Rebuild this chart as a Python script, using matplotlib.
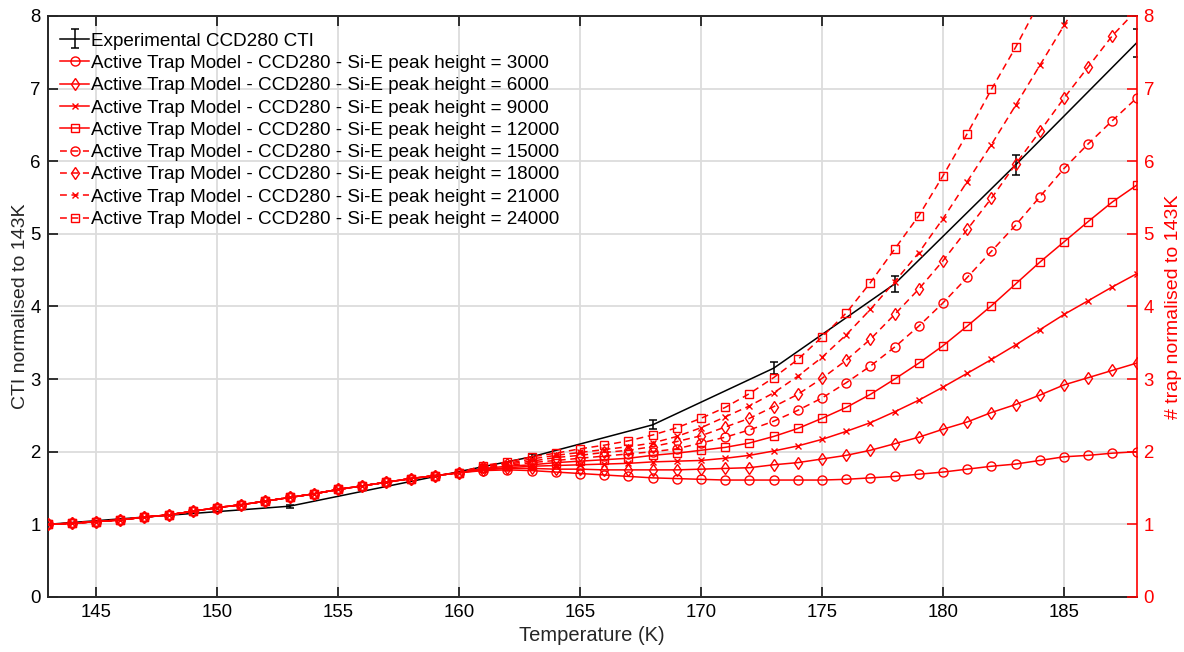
import matplotlib
matplotlib.use("Agg")
import matplotlib.pyplot as plt
import numpy as np

plt.rcParams["font.family"] = ["Liberation Sans", "DejaVu Sans"]

# ---- data ----
temps = list(range(143, 189))

exp_temps = [143, 153, 163, 168, 173, 178, 183, 188]
exp_cti = [1.00, 1.25, 1.93, 2.37, 3.15, 4.31, 5.95, 7.63]
exp_err = [0.01, 0.02, 0.04, 0.06, 0.08, 0.11, 0.14, 0.19]

# 143..160: all model curves sit on top of each other
common = [1.00, 1.014, 1.037, 1.06, 1.10, 1.13, 1.18, 1.23, 1.27, 1.32,
          1.37, 1.42, 1.48, 1.53, 1.58, 1.63, 1.67, 1.71]

# 161..188 per Si-E peak height
tail_3000 = [1.74, 1.75, 1.74, 1.72, 1.70, 1.68, 1.66, 1.64, 1.63, 1.62,
             1.61, 1.61, 1.61, 1.61, 1.61, 1.62, 1.64, 1.66, 1.69, 1.72,
             1.76, 1.80, 1.83, 1.88, 1.93, 1.95, 1.98, 2.00]
tail_6000 = [1.75, 1.77, 1.77, 1.76, 1.76, 1.75, 1.75, 1.75, 1.75, 1.76,
             1.77, 1.78, 1.82, 1.85, 1.90, 1.95, 2.02, 2.11, 2.20, 2.31,
             2.41, 2.54, 2.65, 2.78, 2.92, 3.02, 3.12, 3.22]
tail_9000 = [1.76, 1.78, 1.80, 1.81, 1.82, 1.83, 1.84, 1.86, 1.87, 1.88,
             1.91, 1.95, 2.01, 2.08, 2.17, 2.28, 2.40, 2.55, 2.71, 2.89,
             3.08, 3.27, 3.47, 3.68, 3.89, 4.08, 4.27, 4.45]
tail_12000 = [1.77, 1.80, 1.82, 1.85, 1.87, 1.89, 1.91, 1.95, 1.98, 2.02,
              2.06, 2.12, 2.21, 2.32, 2.46, 2.61, 2.79, 3.00, 3.22, 3.46,
              3.73, 4.01, 4.31, 4.61, 4.89, 5.17, 5.44, 5.67]
tail_15000 = [1.78, 1.81, 1.85, 1.88, 1.91, 1.94, 1.97, 2.00, 2.04, 2.12,
              2.20, 2.30, 2.42, 2.57, 2.74, 2.95, 3.18, 3.44, 3.73, 4.05,
              4.40, 4.76, 5.12, 5.51, 5.90, 6.24, 6.56, 6.87]
tail_18000 = [1.79, 1.83, 1.87, 1.92, 1.95, 1.99, 2.02, 2.07, 2.14, 2.22,
              2.34, 2.46, 2.62, 2.79, 3.01, 3.26, 3.55, 3.89, 4.24, 4.63,
              5.06, 5.49, 5.96, 6.41, 6.87, 7.30, 7.73, 8.08]
tail_21000 = [1.80, 1.84, 1.90, 1.95, 1.99, 2.03, 2.07, 2.12, 2.21, 2.33,
              2.48, 2.63, 2.81, 3.04, 3.30, 3.61, 3.96, 4.34, 4.74, 5.21,
              5.72, 6.23, 6.77, 7.32, 7.87, 8.42, np.nan, np.nan]
tail_24000 = [1.81, 1.86, 1.93, 1.98, 2.04, 2.09, 2.15, 2.23, 2.33, 2.46,
              2.61, 2.80, 3.02, 3.27, 3.58, 3.91, 4.33, 4.79, 5.25, 5.80,
              6.38, 6.99, 7.57, 8.20, np.nan, np.nan, np.nan, np.nan]

peak_heights = [3000, 6000, 9000, 12000, 15000, 18000, 21000, 24000]
tails = [tail_3000, tail_6000, tail_9000, tail_12000,
         tail_15000, tail_18000, tail_21000, tail_24000]
markers = ["o", "d", "x", "s", "o", "d", "x", "s"]
solid = [True, True, True, True, False, False, False, False]

RED = "#ff0000"
GRID = "#dcdcdc"
INK = "#262626"

fig = plt.figure(figsize=(11.84, 6.52), dpi=100)
ax = fig.add_axes([0.0402, 0.0844, 0.9198, 0.8911])

ax.errorbar(exp_temps, exp_cti, yerr=exp_err, color="black", lw=1.1,
            capsize=3, capthick=1.1, elinewidth=1.1,
            label="Experimental CCD280 CTI", zorder=3)

msize = {"o": 6.5, "d": 6.5, "x": 5, "s": 6}
for ph, tail, mk, sol in zip(peak_heights, tails, markers, solid):
    vals = np.array(common + tail, dtype=float)
    kw = dict(color=RED, lw=1.1, marker=mk, markersize=msize[mk],
              markerfacecolor="none", markeredgecolor=RED,
              markeredgewidth=1.0, zorder=4,
              label=f"Active Trap Model - CCD280 - Si-E peak height = {ph}")
    if sol:
        ax.plot(temps, vals, "-", **kw)
    else:
        ax.plot(temps, vals, "--", dashes=(4.5, 3), **kw)

ax.set_xlim(143, 188)
ax.set_ylim(0, 8)
ax.set_xticks([145, 150, 155, 160, 165, 170, 175, 180, 185])
ax.set_yticks(range(0, 9))
ax.grid(True, color=GRID, lw=1.3, zorder=0)
ax.set_axisbelow(True)
ax.tick_params(direction="in", length=7.5, width=1.1, labelsize=13.4,
               top=True, right=False, pad=5)
for side in ("left", "bottom", "top"):
    ax.spines[side].set_linewidth(1.4)
    ax.spines[side].set_color(INK)
ax.spines["right"].set_visible(False)
ax.set_xlabel("Temperature (K)", fontsize=14.5, labelpad=4, color=INK)
ax.set_ylabel("CTI normalised to 143K", fontsize=14, labelpad=1, color=INK)

ax2 = ax.twinx()
ax2.set_ylim(0, 8)
ax2.set_yticks(range(0, 9))
ax2.tick_params(direction="in", length=7.5, width=1.1, labelsize=13.4,
                colors=RED, pad=5)
for side in ("left", "bottom", "top"):
    ax2.spines[side].set_visible(False)
ax2.spines["right"].set_color(RED)
ax2.spines["right"].set_linewidth(1.2)
ax2.set_ylabel("# trap normalised to 143K", fontsize=14, color=RED, labelpad=8)

# experimental entry first, like the original
handles, labels = ax.get_legend_handles_labels()
handles = handles[-1:] + handles[:-1]
labels = labels[-1:] + labels[:-1]
ax.legend(handles, labels, loc="upper left", bbox_to_anchor=(0.0, 0.993),
          frameon=False, fontsize=13.6, labelspacing=0.27, handlelength=1.55,
          handletextpad=0.1, borderaxespad=0.25)

fig.savefig("out.png", dpi=100)
